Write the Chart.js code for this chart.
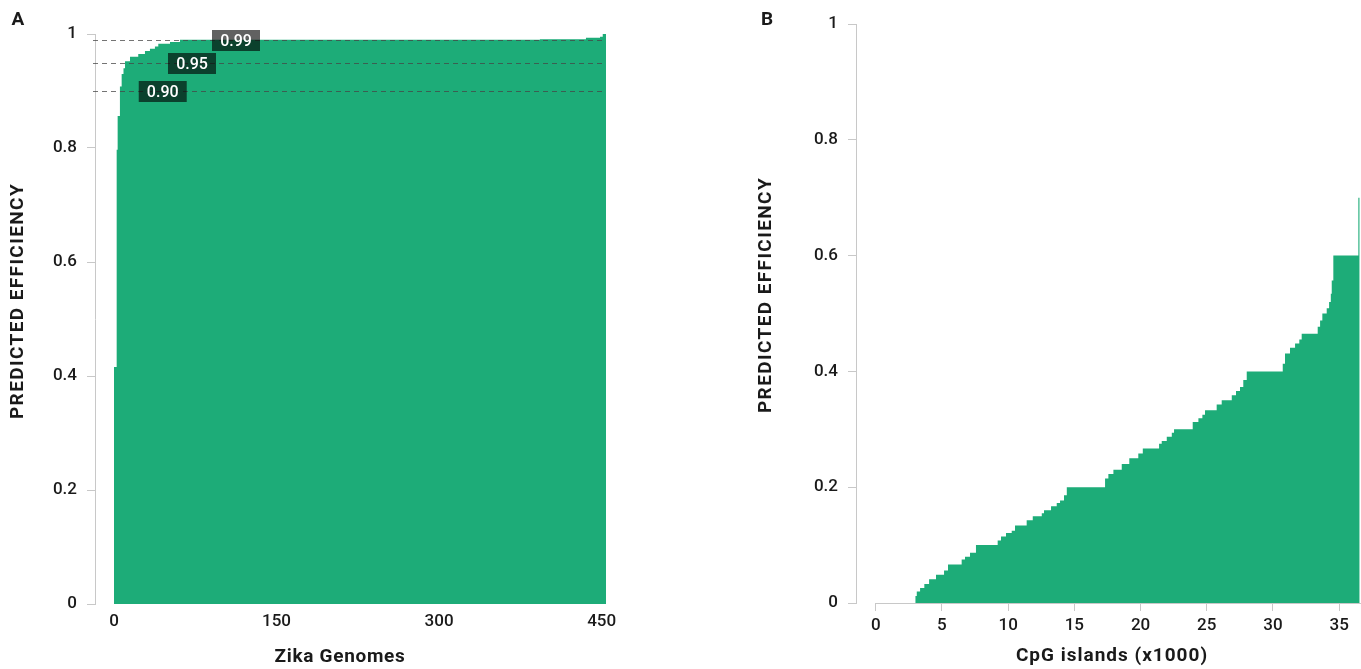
<!DOCTYPE html>
<html>
<head>
<meta charset="utf-8">
<script src="https://cdn.jsdelivr.net/npm/chart.js@4.4.1/dist/chart.umd.min.js"></script>
<style>
  html, body { margin: 0; padding: 0; background: #fff; overflow: hidden; }
  .panel { position: absolute; top: 0; height: 669px; }
  #panelA { left: 0; width: 640px; }
  #panelB { left: 700px; width: 661px; }
</style>
</head>
<body>
<div class="panel" id="panelA"><canvas id="chartA"></canvas></div>
<div class="panel" id="panelB"><canvas id="chartB"></canvas></div>
<script>
// Panel A - predicted efficiency across Zika genomes (step positions)
const zikaX = [0, 2.5, 3.4, 5.5, 7.1, 8.8, 10.2, 14.8, 22.4, 28.6, 33.2, 37.8, 40.9, 51.7, 60.9, 393, 435.5, 448.5, 451, 454]
const zikaY = [0.416, 0.797, 0.856, 0.908, 0.93, 0.94, 0.952, 0.96, 0.965, 0.97, 0.974, 0.978, 0.983, 0.986, 0.99, 0.991, 0.9935, 0.995, 1.0, 1.0]
const zikaTicks = [0, 150, 300, 450]
const refLevels = [0.99, 0.95, 0.90]
const refLabels = ['0.99', '0.95', '0.90']

// Panel B - predicted efficiency across CpG islands (x1000)
const cpgX = [0, 3.0, 3.1, 3.35, 3.67, 4.03, 4.55, 5.16, 5.46, 6.49, 6.74, 7.12, 7.57, 9.21, 9.46, 9.84,
  10.27, 10.52, 11.4, 11.86, 12.54, 12.71, 13.24, 13.67, 13.92, 14.22, 14.43, 17.32, 17.57, 17.95, 18.58,
  19.15, 19.83, 20.17, 21.4, 21.6, 21.98, 22.36, 22.53, 23.94, 24.37, 24.67, 24.87, 25.75, 26.13, 26.89,
  27.21, 27.51, 27.76, 28.02, 30.74, 30.91, 31.29, 31.67, 31.99, 32.17, 33.38, 33.56, 33.73, 34.06, 34.24,
  34.37, 34.44, 34.56, 36.45, 36.55]
const cpgY = [0, 0.012, 0.02, 0.026, 0.033, 0.041, 0.049, 0.056, 0.0666, 0.075, 0.08, 0.0867, 0.1, 0.108, 0.115, 0.121,
  0.125, 0.134, 0.143, 0.15, 0.155, 0.16, 0.167, 0.1726, 0.177, 0.186, 0.2, 0.215, 0.223, 0.23, 0.24,
  0.25, 0.258, 0.267, 0.275, 0.28, 0.287, 0.294, 0.3, 0.3125, 0.319, 0.325, 0.333, 0.343, 0.35, 0.359,
  0.366, 0.373, 0.385, 0.4, 0.413, 0.431, 0.441, 0.448, 0.455, 0.465, 0.477, 0.488, 0.5, 0.509, 0.52,
  0.534, 0.557, 0.6, 0.7, 0.7]
const cpgTicks = [0, 5, 10, 15, 20, 25, 30, 35]

const effTicks = [0, 0.2, 0.4, 0.6, 0.8, 1]

const FONT = 'Roboto, "DejaVu Sans", sans-serif'
const GREEN = '#1dac78'
const AXIS = '#c8c8c8'
const TEXT = '#1a1a1a'

// free-standing text: panel letters and axis titles
const panelText = {
  id: 'panelText',
  afterDraw(chart, args, opts) {
    const ctx = chart.ctx
    ctx.save()
    ctx.fillStyle = TEXT
    ctx.textAlign = 'center'
    ctx.textBaseline = 'middle'
    opts.items.forEach(t => {
      ctx.save()
      ctx.font = t.font
      ctx.letterSpacing = (t.spacing || 0) + 'px'
      ctx.translate(t.x, t.y)
      if (t.rotate) ctx.rotate(-Math.PI / 2)
      ctx.fillText(t.text, 0, 0)
      ctx.restore()
    })
    ctx.restore()
  }
}

// dashed threshold lines with their dark tags (panel A)
const thresholds = {
  id: 'thresholds',
  afterDatasetsDraw(chart, args, opts) {
    const { ctx, chartArea, scales } = chart
    ctx.save()
    refLevels.forEach((lvl, i) => {
      const y = Math.round(scales.y.getPixelForValue(lvl)) + 0.5
      ctx.setLineDash([5, 4])
      ctx.lineWidth = 1
      ctx.strokeStyle = 'rgba(70, 70, 70, 0.75)'
      ctx.beginPath()
      ctx.moveTo(chartArea.left - 2, y)
      ctx.lineTo(chartArea.right, y)
      ctx.stroke()

      const cx = scales.x.getPixelForValue(opts.tagAt[i])
      ctx.setLineDash([])
      ctx.fillStyle = 'rgba(0, 0, 0, 0.62)'
      ctx.fillRect(cx - 24, y - 10.5, 48, 21)
      ctx.fillStyle = '#fff'
      ctx.font = '500 16px ' + FONT
      ctx.textAlign = 'center'
      ctx.textBaseline = 'middle'
      ctx.fillText(refLabels[i], cx, y + 1)
    })
    ctx.restore()
  }
}

// x axis line of panel B starts at 0, not at the y axis
const baseline = {
  id: 'baseline',
  beforeDatasetsDraw(chart) {
    const { ctx, chartArea, scales } = chart
    const y = Math.round(chartArea.bottom) + 0.5
    ctx.save()
    ctx.strokeStyle = AXIS
    ctx.lineWidth = 1
    ctx.beginPath()
    ctx.moveTo(scales.x.getPixelForValue(0), y)
    ctx.lineTo(chartArea.right, y)
    ctx.stroke()
    ctx.restore()
  }
}

function yScale(width) {
  return {
    min: 0,
    max: 1,
    afterBuildTicks: axis => { axis.ticks = effTicks.map(v => ({ value: v })) },
    afterFit: axis => { axis.width = width },
    grid: { drawOnChartArea: false, drawTicks: true, tickLength: 8, color: AXIS },
    border: { display: true, color: AXIS },
    ticks: {
      color: TEXT,
      padding: 10,
      font: { family: FONT, size: 17, weight: '500' },
      callback: v => String(v)
    }
  }
}

function areaDataset(xs, ys) {
  return {
    data: xs.map((x, i) => ({ x: x, y: ys[i] })),
    stepped: true,
    fill: 'origin',
    backgroundColor: GREEN,
    borderColor: GREEN,
    borderWidth: 0,
    pointRadius: 0
  }
}

Chart.defaults.font.family = FONT

const tickFont = { family: FONT, size: 17, weight: '500' }

new Chart(document.getElementById('chartA'), {
  type: 'line',
  data: { datasets: [areaDataset(zikaX, zikaY)] },
  plugins: [thresholds, panelText],
  options: {
    responsive: true,
    maintainAspectRatio: false,
    animation: false,
    layout: { padding: { top: 34, right: 34, left: 0, bottom: 0 } },
    plugins: {
      legend: { display: false },
      tooltip: { enabled: false },
      thresholds: { tagAt: [112.6, 72, 45] },
      panelText: {
        items: [
          { text: 'A', x: 18, y: 20, font: 'bold 19px ' + FONT },
          { text: 'PREDICTED EFFICIENCY', x: 18, y: 301, rotate: true, font: 'bold 19px ' + FONT, spacing: 1.4 },
          { text: 'Zika Genomes', x: 340, y: 657, font: 'bold 19px ' + FONT, spacing: 0.7 }
        ]
      }
    },
    scales: {
      x: {
        type: 'linear',
        min: -17.5,
        max: 454,
        afterBuildTicks: axis => { axis.ticks = zikaTicks.map(v => ({ value: v })) },
        afterFit: axis => { axis.height = 65 },
        grid: { display: false, drawTicks: false },
        border: { display: false },
        ticks: { color: TEXT, padding: 8, maxRotation: 0, font: tickFont }
      },
      y: yScale(95)
    }
  }
})

new Chart(document.getElementById('chartB'), {
  type: 'line',
  data: { datasets: [areaDataset(cpgX, cpgY)] },
  plugins: [baseline, panelText],
  options: {
    responsive: true,
    maintainAspectRatio: false,
    animation: false,
    layout: { padding: { top: 24, right: 0, left: 0, bottom: 0 } },
    plugins: {
      legend: { display: false },
      tooltip: { enabled: false },
      panelText: {
        items: [
          { text: 'B', x: 67, y: 20, font: 'bold 19px ' + FONT },
          { text: 'PREDICTED EFFICIENCY', x: 66, y: 295, rotate: true, font: 'bold 19px ' + FONT, spacing: 1.4 },
          { text: 'CpG islands (x1000)', x: 412, y: 656, font: 'bold 19px ' + FONT, spacing: 1 }
        ]
      }
    },
    scales: {
      x: {
        type: 'linear',
        min: -1.49,
        max: 36.65,
        afterBuildTicks: axis => { axis.ticks = cpgTicks.map(v => ({ value: v })) },
        afterFit: axis => { axis.height = 66 },
        grid: { drawOnChartArea: false, drawTicks: true, tickLength: 8, color: AXIS },
        border: { display: false },
        ticks: { color: TEXT, padding: 5, maxRotation: 0, font: tickFont }
      },
      y: yScale(156)
    }
  }
})
</script>
</body>
</html>
